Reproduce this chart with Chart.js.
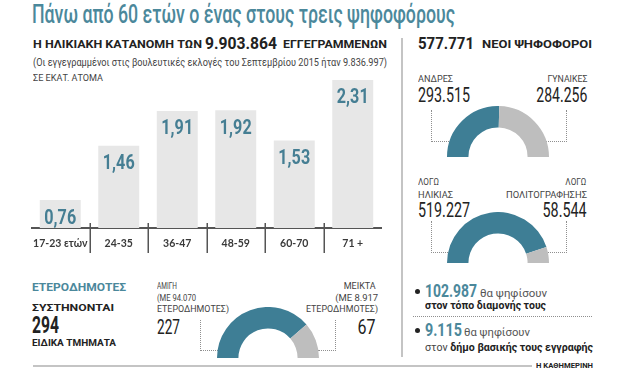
<!DOCTYPE html>
<html><head><meta charset="utf-8">
<script src="https://cdn.jsdelivr.net/npm/chart.js@4.4.1/dist/chart.umd.min.js"></script>
<style>
html,body{margin:0;padding:0;background:#fff;}
#root{position:relative;width:620px;height:388px;overflow:hidden;font-family:Roboto,"DejaVu Sans",sans-serif;}
.t{position:absolute;white-space:nowrap;line-height:1;}
.box{position:absolute;}
.dl{position:absolute;border:0 dotted #8f8f8f;box-sizing:border-box;}
</style></head><body><div id="root"></div>
<script>
// ---- data ----
const ageGroups = ['17-23 ετών','24-35','36-47','48-59','60-70','71 +'];
const votersMillions = [0.76,1.46,1.91,1.92,1.53,2.31];
const genderLabels = ['ΑΝΔΡΕΣ','ΓΥΝΑΙΚΕΣ'];
const genderValues = [293515,284256];
const reasonLabels = [['ΛΟΓΩ','ΗΛΙΚΙΑΣ'],['ΛΟΓΩ','ΠΟΛΙΤΟΓΡΑΦΗΣΗΣ']];
const reasonValues = [519227,58544];
const sectionLabels = [['ΑΜΙΓΗ','(ΜΕ 94.070','ΕΤΕΡΟΔΗΜΟΤΕΣ)'],['ΜΕΙΚΤΑ','(ΜΕ 8.917','ΕΤΕΡΟΔΗΜΟΤΕΣ)']];
const sectionValues = [227,67];
const totalRegistered = 9903864;
const newVoters = 577771;
const totalSections = 294;
const votersAtResidence = 102987;
const votersAtMunicipality = 9115;

const TEAL_TXT = '#4b889b';
const TEAL = '#3e7e95';
const GREY = '#bebebe';

const root = document.getElementById('root');
function fmt(n){ return String(n).replace(/\B(?=(\d{3})+(?!\d))/g,'.'); }
function txt(html, x, cy, size, weight, color, w, align){
  const el = document.createElement('div');
  el.className = 't';
  el.innerHTML = html;
  el.style.fontSize = size + 'px';
  el.style.fontWeight = weight;
  el.style.color = color;
  el.style.top = (cy - size*0.487) + 'px';
  root.appendChild(el);
  const nat = el.getBoundingClientRect().width;
  const s = w ? w/nat : 1;
  if (align === 'right') { el.style.left = (x - nat) + 'px'; el.style.transformOrigin = 'right center'; }
  else { el.style.left = x + 'px'; el.style.transformOrigin = 'left center'; }
  el.style.transform = 'scaleX(' + s + ')';
  return el;
}
function rect(x, y, w, h, bg){
  const d = document.createElement('div'); d.className='box';
  Object.assign(d.style,{left:x+'px',top:y+'px',width:w+'px',height:h+'px',background:bg});
  root.appendChild(d); return d;
}
function dotted(x, y, w, h, side){
  const d = document.createElement('div'); d.className='dl';
  Object.assign(d.style,{left:x+'px',top:y+'px',width:w+'px',height:h+'px'});
  d.style['border' + side + 'Width'] = '1px';
  d.style.borderBottomWidth = '1px';
  root.appendChild(d);
}

// ---- texts ----
txt('Πάνω από 60 ετών ο ένας στους τρεις ψηφοφόρους', 32, 14, 25, 500, TEAL_TXT, 423);
txt('Η ΗΛΙΚΙΑΚΗ ΚΑΤΑΝΟΜΗ ΤΩΝ', 33, 45.5, 10.5, 700, '#222', 169);
txt(fmt(totalRegistered), 205, 43.5, 17, 700, '#222', 72);
txt('ΕΓΓΕΓΡΑΜΜΕΝΩΝ', 283, 45.5, 10.5, 700, '#222', 104);
txt('(Οι εγγεγραμμένοι στις βουλευτικές εκλογές του Σεπτεμβρίου 2015 ήταν 9.836.997)', 33, 63, 10.5, 400, '#444', 354);
txt('ΣΕ ΕΚΑΤ. ΑΤΟΜΑ', 33, 78, 9, 400, '#444', 70);

txt(fmt(newVoters), 418, 43.5, 17, 700, '#222', 56);
txt('ΝΕΟΙ ΨΗΦΟΦΟΡΟΙ', 482, 45.5, 10.5, 700, '#222', 110);

txt(genderLabels[0], 418, 78.5, 9.5, 400, '#444', 35);
txt(fmt(genderValues[0]), 418, 95.5, 21, 400, '#222', 52);
txt(genderLabels[1], 587, 78.5, 9.5, 400, '#444', 40, 'right');
txt(fmt(genderValues[1]), 587, 95.5, 21, 400, '#222', 51, 'right');

txt(reasonLabels[0][0], 418, 182, 9.5, 400, '#444', 21);
txt(reasonLabels[0][1], 418, 194.5, 9.5, 400, '#444', 35);
txt(fmt(reasonValues[0]), 418, 210, 21, 400, '#222', 52);
txt(reasonLabels[1][0], 586, 182, 9.5, 400, '#444', 21, 'right');
txt(reasonLabels[1][1], 587, 194.5, 9.5, 400, '#444', 81, 'right');
txt(fmt(reasonValues[1]), 587, 210, 21, 400, '#222', 44, 'right');

// bullets
function bullet(x,y){ const d=rect(x-2.5,y-2.5,5,5,'#222'); d.style.borderRadius='50%'; }
bullet(417, 291);
txt(fmt(votersAtResidence), 425, 290.5, 18, 700, TEAL_TXT, 52);
txt('θα ψηφίσουν', 480, 293, 11, 400, '#555', 67);
txt('στον τόπο διαμονής τους', 425, 305.5, 11, 700, '#222', 121);
const sep = document.createElement('div'); sep.className='dl';
Object.assign(sep.style,{left:'413px',top:'316px',width:'179px',height:'1px',borderTopWidth:'1px'}); root.appendChild(sep);
bullet(417, 330);
txt(fmt(votersAtMunicipality), 425, 330, 18, 700, TEAL_TXT, 37);
txt('θα ψηφίσουν', 464, 332.5, 11, 400, '#555', 66);
txt('<span style="color:#444">στον</span> <b>δήμο βασικής τους εγγραφής</b>', 425, 347, 11, 400, '#222', 168);
txt('Η ΚΑΘΗΜΕΡΙΝΗ', 536, 365.5, 7.5, 700, '#222', 57);

// bottom-left
txt('ΕΤΕΡΟΔΗΜΟΤΕΣ', 32, 288.5, 10.5, 700, TEAL_TXT, 94);
txt('ΣΥΣΤΗΝΟΝΤΑΙ', 32, 307.5, 9.5, 700, '#222', 82);
txt(String(totalSections), 32, 325, 23, 700, '#222', 27);
txt('ΕΙΔΙΚΑ ΤΜΗΜΑΤΑ', 32, 342.7, 9.5, 700, '#222', 84);
txt(sectionLabels[0][0], 157, 286, 9.5, 400, '#444', 20);
txt(sectionLabels[0][1], 157, 297.5, 9.5, 400, '#444', 39);
txt(sectionLabels[0][2], 157, 309, 9.5, 400, '#444', 72);
txt(String(sectionValues[0]), 157, 327.5, 21, 400, '#222', 23);
txt(sectionLabels[1][0], 376, 286, 9.5, 400, '#444', 32, 'right');
txt(sectionLabels[1][1], 378, 297.5, 9.5, 400, '#444', 43, 'right');
txt(sectionLabels[1][2], 378, 309, 9.5, 400, '#444', 72, 'right');
txt(String(sectionValues[1]), 376, 327.5, 21, 400, '#222', 18, 'right');

// rules
rect(401, 38, 2, 319, '#c4c4c4');
rect(33, 365, 499, 2, '#c4c4c4');

// dotted connectors
dotted(431, 110, 18, 32, 'Left');
dotted(546, 110, 21, 32, 'Right');
dotted(431, 221, 17, 32, 'Left');
dotted(546, 221, 21, 32, 'Right');
dotted(200, 320, 18, 31, 'Left');
dotted(318, 320, 18, 31, 'Right');

// ---- bar chart ----
const valueLabels = {id:'valueLabels', afterDatasetsDraw(chart){
  const ctx = chart.ctx, meta = chart.getDatasetMeta(0), vals = chart.data.datasets[0].data;
  ctx.save();
  ctx.fillStyle = '#457e93';
  ctx.font = 'bold 21px Roboto';
  ctx.textAlign = 'center';
  ctx.textBaseline = 'alphabetic';
  meta.data.forEach((bar,i)=>{
    const s = vals[i].toFixed(2).replace('.', ',');
    ctx.save();
    ctx.translate(bar.x, bar.y + 16 + 7.5);
    ctx.scale(0.77, 1);
    ctx.fillText(s, 0, 0);
    ctx.restore();
  });
  ctx.restore();
}};
const separators = {id:'separators', afterDraw(chart){
  const xs = chart.scales.x, ctx = chart.ctx, yb = chart.chartArea.bottom;
  ctx.save(); ctx.strokeStyle = '#555'; ctx.lineWidth = 1.5;
  for (let i=1;i<xs.ticks.length;i++){
    const x = Math.round((xs.getPixelForValue(i-1)+xs.getPixelForValue(i))/2) + 0.25;
    ctx.beginPath(); ctx.moveTo(x, yb-5); ctx.lineTo(x, yb+25); ctx.stroke();
  }
  ctx.restore();
}};
const bw = document.createElement('div'); bw.className='box';
Object.assign(bw.style,{left:'31px',top:'73px'});
const bc = document.createElement('canvas'); bc.width=351; bc.height=185; bw.appendChild(bc); root.appendChild(bw);
new Chart(bc, {
  type:'bar',
  data:{labels:ageGroups, datasets:[{data:votersMillions, backgroundColor:'#e7e7e7', barPercentage:0.7, categoryPercentage:1}]},
  options:{
    responsive:false, animation:false, events:[],
    layout:{padding:0},
    plugins:{legend:{display:false}, tooltip:{enabled:false}},
    scales:{
      x:{grid:{display:false, drawTicks:false, tickLength:0},
         border:{display:true, color:'#555', width:2},
         ticks:{color:'#3a3a3a', font:{family:'Lato', size:10.5, weight:'bold'}, padding:9, maxRotation:0, autoSkip:false},
         afterFit(s){ s.height = 30; s.paddingLeft = 0; s.paddingRight = 0; }},
      y:{display:false, min:0.4, max:2.4}
    }
  },
  plugins:[valueLabels, separators]
});

// ---- half doughnuts ----
function gauge(values, cx, cy, r){
  const wrap = document.createElement('div'); wrap.className='box';
  wrap.style.left=(cx-r)+'px'; wrap.style.top=(cy-r)+'px';
  const cv = document.createElement('canvas'); cv.width=2*r; cv.height=r;
  wrap.appendChild(cv); root.appendChild(wrap);
  new Chart(cv, {
    type:'doughnut',
    data:{datasets:[{data:values, backgroundColor:[TEAL, GREY], borderWidth:0, hoverOffset:0}]},
    options:{responsive:false, animation:false, events:[], rotation:-90, circumference:180, cutout:'58%',
      layout:{padding:0}, plugins:{legend:{display:false}, tooltip:{enabled:false}}}
  });
}
gauge(genderValues, 497.5, 157, 51);
gauge(reasonValues, 498, 263, 51);
gauge(sectionValues, 267.5, 358, 51);
</script></body></html>
